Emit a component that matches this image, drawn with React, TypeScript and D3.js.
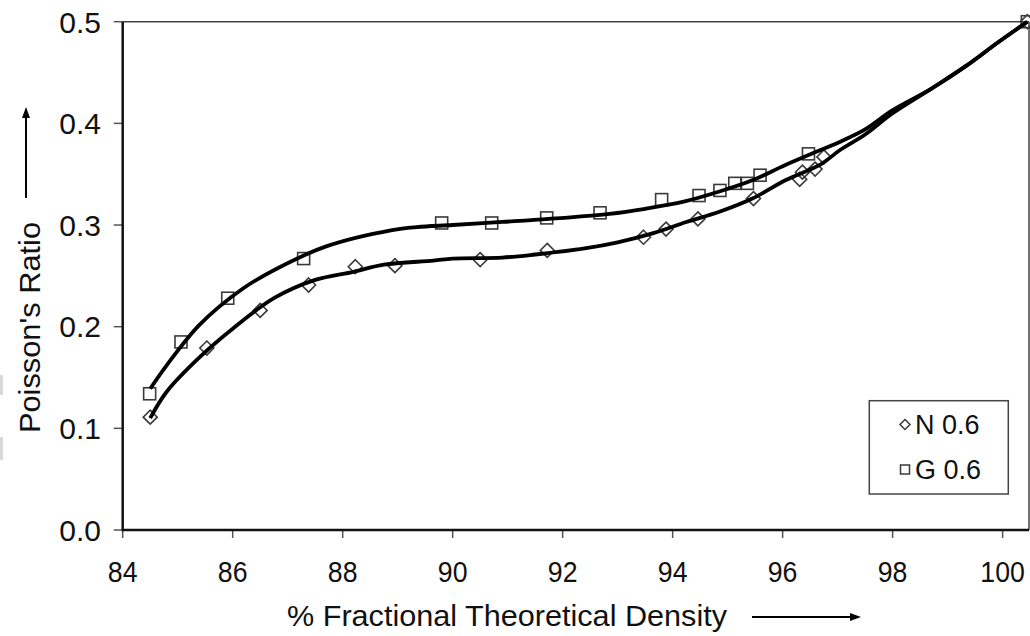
import React from "react";
import * as d3 from "d3";

// Trend curve for N 0.6 (lower curve)
const curveNX = [84.5, 84.8, 85.4, 86.0, 86.75, 87.5, 88.2, 88.75, 89.65, 90.0, 90.9, 91.5, 92.4, 93.0, 93.65, 94.25, 94.85, 95.45, 96.05, 96.7, 97.05, 97.5, 98.0, 98.7, 99.35, 99.9, 100.45];
const curveNY = [0.110, 0.136, 0.170, 0.198, 0.228, 0.246, 0.254, 0.261, 0.265, 0.267, 0.268, 0.271, 0.277, 0.283, 0.292, 0.303, 0.313, 0.326, 0.344, 0.360, 0.374, 0.389, 0.410, 0.434, 0.457, 0.479, 0.500];

// Trend curve for G 0.6 (upper curve)
const curveGX = [84.5, 84.8, 85.4, 86.2, 86.8, 87.7, 88.9, 89.35, 90.0, 90.9, 91.75, 92.85, 93.5, 94.2, 94.85, 95.45, 96.05, 96.7, 97.05, 97.5, 98.0, 98.7, 99.35, 99.9, 100.45];
const curveGY = [0.139, 0.162, 0.202, 0.238, 0.257, 0.279, 0.295, 0.298, 0.300, 0.303, 0.306, 0.311, 0.316, 0.323, 0.333, 0.344, 0.359, 0.374, 0.382, 0.394, 0.413, 0.434, 0.457, 0.479, 0.500];

// Measured points N 0.6 (diamonds)
const pointsNX = [84.5, 85.53, 86.5, 87.38, 88.23, 88.95, 90.5, 91.72, 93.47, 93.88, 94.46, 95.47, 96.31, 96.36, 96.59, 96.75, 100.45];
const pointsNY = [0.111, 0.179, 0.216, 0.241, 0.259, 0.260, 0.266, 0.275, 0.288, 0.296, 0.306, 0.326, 0.345, 0.352, 0.355, 0.367, 0.500];

// Measured points G 0.6 (squares)
const pointsGX = [84.49, 85.06, 85.91, 87.29, 89.8, 90.71, 91.71, 92.68, 93.8, 94.48, 94.86, 95.13, 95.36, 95.59, 96.47, 100.45];
const pointsGY = [0.134, 0.185, 0.228, 0.267, 0.302, 0.302, 0.307, 0.312, 0.325, 0.329, 0.334, 0.341, 0.341, 0.349, 0.370, 0.500];

const xTicks = [84, 86, 88, 90, 92, 94, 96, 98, 100];
const yTicks = [0.0, 0.1, 0.2, 0.3, 0.4, 0.5];
const seriesNames = ["N 0.6", "G 0.6"];

const W = 1030;
const H = 636;
const left = 122.7;
const right = 1029;
const top = 21.7;
const bottom = 530;
const FONT = "'Liberation Sans', Arial, sans-serif";

export default function App() {
  const x = d3.scaleLinear().domain([84, 100.48]).range([left, right]);
  const y = d3.scaleLinear().domain([0, 0.5]).range([bottom, top]);

  const line = d3
    .line<[number, number]>()
    .x((d) => x(d[0]))
    .y((d) => y(d[1]))
    .curve(d3.curveCatmullRom.alpha(0.5));

  const nCurve = curveNX.map((v, i) => [v, curveNY[i]] as [number, number]);
  const gCurve = curveGX.map((v, i) => [v, curveGY[i]] as [number, number]);

  const diamond = (cx: number, cy: number, r: number) =>
    `M${cx},${cy - r}L${cx + r},${cy}L${cx},${cy + r}L${cx - r},${cy}Z`;

  const markerStroke = "#3a3a3a";

  return (
    <svg
      width={W}
      height={H}
      style={{ position: "absolute", left: 0, top: 0, background: "#fff" }}
      fontFamily={FONT}
    >
      <rect x={0} y={0} width={W} height={H} fill="#fff" />
      {/* small grey artifacts on the left edge */}
      <rect x={0} y={375} width={3} height={20} fill="#d8d8d8" />
      <rect x={0} y={437} width={3} height={23} fill="#d8d8d8" />

      {/* frame top & right */}
      <line x1={left} y1={top} x2={right} y2={top} stroke="#444" strokeWidth={1.5} />
      <line x1={right} y1={top} x2={right} y2={bottom} stroke="#444" strokeWidth={1.5} />

      {/* y ticks */}
      {yTicks.map((t) => (
        <g key={"yt" + t}>
          <line x1={left - 9} x2={left} y1={y(t)} y2={y(t)} stroke="#555" strokeWidth={1.5} />
          <text
            x={101}
            y={y(t)}
            dy="0.36em"
            textAnchor="end"
            fontSize={30}
            fill="#111"
          >
            {d3.format(".1f")(t)}
          </text>
        </g>
      ))}

      {/* x ticks */}
      {xTicks.map((t) => (
        <g key={"xt" + t}>
          <line x1={x(t)} x2={x(t)} y1={bottom} y2={bottom + 8} stroke="#555" strokeWidth={1.5} />
          <text
            transform={`translate(${x(t)},582) scale(0.92,1)`}
            textAnchor="middle"
            fontSize={29}
            fill="#111"
          >
            {t}
          </text>
        </g>
      ))}

      {/* axes left & bottom */}
      <line x1={left} y1={top} x2={left} y2={bottom + 1} stroke="#111" strokeWidth={2.5} />
      <line x1={left - 1} y1={bottom} x2={right} y2={bottom} stroke="#111" strokeWidth={2.5} />

      {/* markers */}
      {pointsNX.map((v, i) => (
        <path
          key={"n" + i}
          d={diamond(x(v), y(pointsNY[i]), 7)}
          fill="none"
          stroke={markerStroke}
          strokeWidth={1.6}
        />
      ))}
      {pointsGX.map((v, i) => (
        <rect
          key={"g" + i}
          x={x(v) - 6}
          y={y(pointsGY[i]) - 6}
          width={12}
          height={12}
          fill="none"
          stroke={markerStroke}
          strokeWidth={1.6}
        />
      ))}

      {/* curves */}
      <path d={line(nCurve) || ""} fill="none" stroke="#000" strokeWidth={3.8} strokeLinejoin="round" />
      <path d={line(gCurve) || ""} fill="none" stroke="#000" strokeWidth={3.8} strokeLinejoin="round" />

      {/* legend */}
      <rect x={869.3} y={400.7} width={139} height={93.3} fill="#fff" stroke="#444" strokeWidth={1.5} />
      <path d={diamond(905, 424.5, 5)} fill="none" stroke={markerStroke} strokeWidth={1.5} />
      <text x={915} y={433.5} fontSize={27} fill="#111">{seriesNames[0]}</text>
      <rect x={900.5} y={465} width={9} height={9} fill="none" stroke={markerStroke} strokeWidth={1.5} />
      <text x={915} y={479} fontSize={27} fill="#111">{seriesNames[1]}</text>

      {/* y axis title with arrow */}
      <text
        transform={`translate(40,${(221 + 434) / 2}) rotate(-90)`}
        textAnchor="middle"
        fontSize={30}
        textLength={211}
        lengthAdjust="spacingAndGlyphs"
        fill="#111"
      >
        Poisson's Ratio
      </text>
      <line x1={26} y1={198} x2={26} y2={116} stroke="#000" strokeWidth={2} />
      <path d="M26,107 L22,118 L30,118 Z" fill="#000" />

      {/* x axis title with arrow */}
      <text
        x={287}
        y={626}
        fontSize={30}
        textLength={440}
        lengthAdjust="spacingAndGlyphs"
        fill="#111"
      >
        % Fractional Theoretical Density
      </text>
      <line x1={752} y1={617} x2={852} y2={617} stroke="#000" strokeWidth={2} />
      <path d="M861,617 L850,613 L850,621 Z" fill="#000" />
    </svg>
  );
}
